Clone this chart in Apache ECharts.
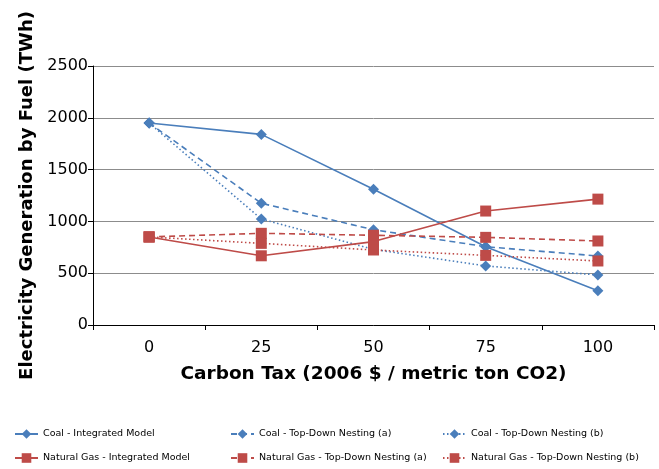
<!DOCTYPE html>
<html>
<head>
<meta charset="utf-8">
<script src="https://cdn.jsdelivr.net/npm/echarts@6/dist/echarts.min.js"></script>
<style>
  html, body { margin: 0; padding: 0; background: #fff; }
  #chart { width: 659px; height: 469px; }
</style>
</head>
<body>
<div id="chart"></div>
<script>
const carbonTax = ['0', '25', '50', '75', '100']

const coalIntegrated = [1950, 1840, 1310, 755, 330]
const coalTopDownA = [1950, 1175, 920, 756, 666]
const coalTopDownB = [1950, 1023, 730, 570, 483]
const gasIntegrated = [850, 668, 805, 1100, 1215]
const gasTopDownA = [850, 885, 866, 846, 811]
const gasTopDownB = [850, 788, 724, 672, 618]

const BLUE = '#4a7ebb'
const RED = '#be4b48'
const FONT = 'DejaVu Sans, Arial, sans-serif'

function makeSeries(name, data, color, symbol, lineType) {
  return {
    name: name,
    type: 'line',
    data: data,
    symbol: symbol,
    symbolSize: 11,
    lineStyle: { color: color, width: 1.6, type: lineType },
    itemStyle: { color: color },
    emphasis: { disabled: true }
  }
}

// one legend per entry so the 3x2 grid lines up like the original
function makeLegend(left, top, name) {
  return {
    left: left,
    top: top,
    padding: 0,
    itemWidth: 23,
    itemHeight: 12,
    textStyle: { fontSize: 9.5, color: '#000', fontFamily: FONT },
    data: [name]
  }
}

const chart = echarts.init(document.getElementById('chart'))

chart.setOption({
  animation: false,
  textStyle: { fontFamily: FONT },
  grid: { left: 93, right: 5, top: 66, bottom: 144 },
  legend: [
    makeLegend(14, 429, 'Coal - Integrated Model'),
    makeLegend(230, 429, 'Coal - Top-Down Nesting (a)'),
    makeLegend(442, 429, 'Coal - Top-Down Nesting (b)'),
    makeLegend(14, 453, 'Natural Gas - Integrated Model'),
    makeLegend(230, 453, 'Natural Gas - Top-Down Nesting (a)'),
    makeLegend(442, 453, 'Natural Gas - Top-Down Nesting (b)')
  ],
  xAxis: {
    type: 'category',
    data: carbonTax,
    boundaryGap: true,
    name: 'Carbon Tax (2006 $ / metric ton CO2)',
    nameLocation: 'middle',
    nameGap: 40,
    nameTextStyle: { fontSize: 18.5, fontWeight: 'bold', color: '#000' },
    axisLine: { lineStyle: { color: '#000', width: 1 } },
    axisTick: { show: true, length: 5, lineStyle: { color: '#000' } },
    axisLabel: { fontSize: 16, color: '#000', margin: 15 },
    splitLine: { show: false }
  },
  yAxis: {
    type: 'value',
    min: 0,
    max: 2500,
    interval: 500,
    name: 'Electricity Generation by Fuel (TWh)',
    nameLocation: 'middle',
    nameGap: 55,
    nameTextStyle: { fontSize: 18, fontWeight: 'bold', color: '#000' },
    axisLine: { show: true, lineStyle: { color: '#000', width: 1 } },
    axisTick: { show: true, length: 5, lineStyle: { color: '#000' } },
    axisLabel: { fontSize: 16, color: '#000', margin: 5, formatter: v => String(v) },
    splitLine: { show: true, lineStyle: { color: '#8c8c8c', width: 1 } }
  },
  series: [
    makeSeries('Coal - Integrated Model', coalIntegrated, BLUE, 'diamond', 'solid'),
    makeSeries('Coal - Top-Down Nesting (a)', coalTopDownA, BLUE, 'diamond', [6, 4]),
    makeSeries('Coal - Top-Down Nesting (b)', coalTopDownB, BLUE, 'diamond', [1.5, 2.5]),
    makeSeries('Natural Gas - Integrated Model', gasIntegrated, RED, 'rect', 'solid'),
    makeSeries('Natural Gas - Top-Down Nesting (a)', gasTopDownA, RED, 'rect', [6, 4]),
    makeSeries('Natural Gas - Top-Down Nesting (b)', gasTopDownB, RED, 'rect', [1.5, 2.5])
  ]
})
</script>
</body>
</html>
